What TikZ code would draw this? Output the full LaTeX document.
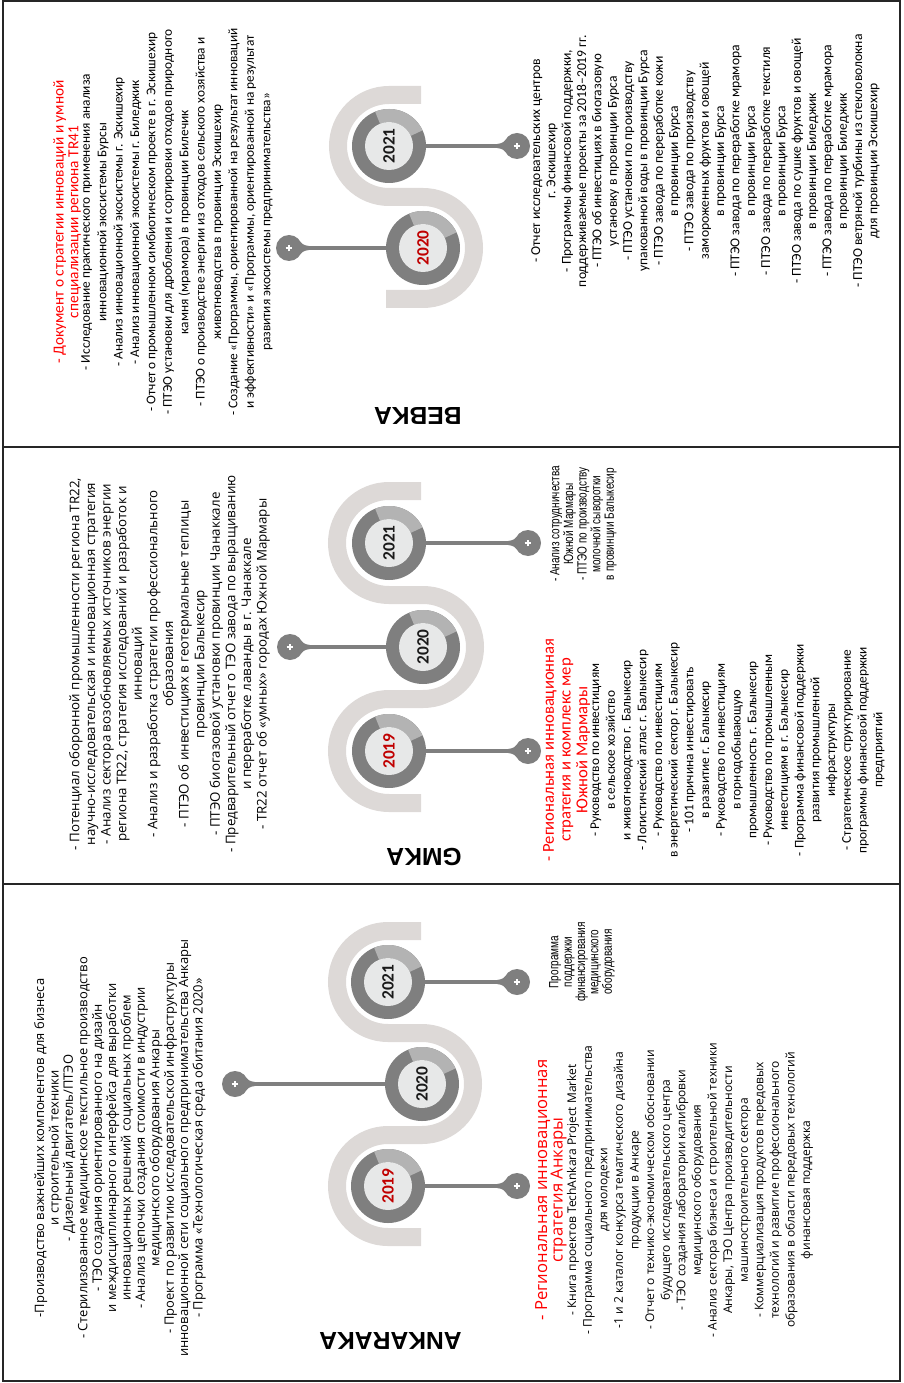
\documentclass[tikz,border=0pt]{standalone}
\usepackage{fontspec}
\setmainfont{Carlito}
\newfontfamily\wideface{Open Sans}
\newfontfamily\narrowface[FakeStretch=0.75]{Liberation Sans}
\newfontfamily\headface{Liberation Sans}
\usetikzlibrary{calc}
\newcommand{\fs}[2]{\fontsize{#1}{#2}\selectfont}
\definecolor{bandgray}{HTML}{DDD9D7}
\definecolor{ringdark}{HTML}{7F7F7F}
\definecolor{ringlight}{HTML}{B3B3B3}
\definecolor{diskgray}{HTML}{E7E8E8}
\definecolor{titlered}{HTML}{FF0000}
\definecolor{yearred}{HTML}{C00000}
\definecolor{yearblack}{HTML}{1A1A1A}
\definecolor{framegray}{HTML}{262626}

\begin{document}
\begin{tikzpicture}[x=0.75pt, y=-0.75pt,
	band/.style={line width=13.5pt, color=bandgray},
	stem/.style={line width=3pt, color=ringdark},
	year/.style={circle, minimum size=55.5pt, inner sep=0pt, rotate=90, font=\fs{13}{13}\bfseries},
	pin/.style={circle, fill=ringdark, minimum size=19.5pt, inner sep=0pt,
		path picture={\draw[white, line width=1.9pt]
			([xshift=-2.6pt]path picture bounding box.center) -- ([xshift=2.6pt]path picture bounding box.center)
			([yshift=-2.6pt]path picture bounding box.center) -- ([yshift=2.6pt]path picture bounding box.center);}},
	notes/.style={rotate=90, anchor=north, align=center, inner sep=0pt},
	title/.style={notes, text=titlered},
	head/.style={rotate=180, anchor=west, inner sep=0pt, font=\headface\bfseries\fs{18.5}{20}},
	frame/.style={line width=1.1pt, color=framegray}]
	\useasboundingbox (0,0) rectangle (903,1383);
	\def\rout{37}
	\def\rin{24}
%
	% frame and panels
	\draw[frame] (3,1) rectangle (900,1381);
	\draw[frame] (3,447) -- (900,447);
	\draw[frame] (3,884) -- (900,884);
%
	% the S bands
	\draw[band] (421,95) -- (389,95) arc[start angle=270, end angle=90, radius=51]
		-- (423,197) arc[start angle=-90, end angle=90, radius=51] -- (386,299);
	\draw[band] (421,491) -- (389,491) arc[start angle=270, end angle=90, radius=52]
		-- (423,595) arc[start angle=-90, end angle=90, radius=52]
		-- (389,699) arc[start angle=270, end angle=90, radius=52] -- (421,803);
	\draw[band] (421,931) -- (388,931) arc[start angle=270, end angle=90, radius=51]
		-- (422,1033) arc[start angle=-90, end angle=90, radius=51]
		-- (388,1135) arc[start angle=270, end angle=90, radius=51] -- (421,1237);
%
	% year rings
	\foreach \n/\x/\y/\yr/\col in {b21/389/146/2021/yearblack, b20/423/248/2020/yearred,
		g21/389/543/2021/yearblack, g20/423/647/2020/yearblack, g19/389/751/2019/yearred,
		a21/388/982/2021/yearblack, a20/422/1084/2020/yearblack, a19/388/1186/2019/yearred}{
		\fill[ringdark] (\x,\y) circle[radius=\rout];
		\fill[ringlight] ($(\x,\y)+(-112:\rout)$) arc[start angle=-112, end angle=-25, radius=\rout]
			-- ($(\x,\y)+(-25:\rin)$) arc[start angle=-25, end angle=-112, radius=\rin] -- cycle;
		\fill[diskgray] (\x,\y) circle[radius=\rin];
		\node[year, text=\col] (\n) at (\x,\y) {\yr};
	}
%
	% pins
	\node[pin] (pb21) at (517,146) {};
	\node[pin] (pb20) at (289,248) {};
	\node[pin] (pg21) at (528,543) {};
	\node[pin] (pg20) at (290,647) {};
	\node[pin] (pg19) at (528,751) {};
	\node[pin] (pa21) at (517,982) {};
	\node[pin] (pa20) at (235,1084) {};
	\node[pin] (pa19) at (517,1186) {};
	\foreach \a/\b in {b21/pb21, b20/pb20, g21/pg21, g20/pg20, g19/pg19, a21/pa21, a20/pa20, a19/pa19}
		\draw[stem] (\a) -- (\b);
	\foreach \p/\d in {pb21/-1, pb20/1, pg21/-1, pg20/1, pg19/-1, pa21/-1, pa20/1, pa19/-1}
		\fill[ringdark] ($(\p)+(\d*8,-10)$) .. controls ($(\p)+(\d*14,-3)$) .. ($(\p)+(\d*20,-2)$)
			-- ($(\p)+(\d*20,2)$) .. controls ($(\p)+(\d*14,3)$) .. ($(\p)+(\d*8,10)$) -- cycle;
%
	% BEBKA
	\node[head] (hbebka) at (462,416) {BEBKA};
	\node[title, font=\fs{11.5}{11}] (tbebka) at (53,222)
		{- Документ о стратегии инноваций и умной\\специализации региона TR41};
	\node[notes, font=\fs{10}{12.3}] (nbebka) at (tbebka.south) {- Исследование практического применения анализа\\
		инновационной экосистемы Бурсы\\
		- Анализ инновационной экосистемы г. Эскишехир\\
		- Анализ инновационной экосистемы г. Биледжик\\
		- Отчет о промышленном симбиотическом проекте в г. Эскишехир\\
		- ПТЭО установки для дробления и сортировки отходов природного\\
		камня (мрамора) в провинции Билечик\\
		- ПТЭО о производстве энергии из отходов сельского хозяйства и\\
		животноводства в провинции Эскишехир\\
		- Создание «Программы, ориентированной на результат инноваций\\
		и эффективности» и «Программы, ориентированной на результат\\
		развития экосистемы предпринимательства»};
	\node[notes, font=\fs{10.2}{11.5}] (rbebka) at (531,161) {- Отчет исследовательских центров\\
		г. Эскишехир\\
		- Программы финансовой поддержки,\\
		поддерживаемые проекты за 2018–2019 гг.\\
		- ПТЭО об инвестициях в биогазовую\\
		установку в провинции Бурса\\
		- ПТЭО установки по производству\\
		упакованной воды в провинции Бурса\\
		- ПТЭО завода по переработке кожи\\
		в провинции Бурса\\
		- ПТЭО завода по производству\\
		замороженных фруктов и овощей\\
		в провинции Бурса\\
		- ПТЭО завода по переработке мрамора\\
		в провинции Бурса\\
		- ПТЭО завода по переработке текстиля\\
		в провинции Бурса\\
		- ПТЭО завода по сушке фруктов и овощей\\
		в провинции Биледжик\\
		- ПТЭО завода по переработке мрамора\\
		в провинции Биледжик\\
		- ПТЭО ветряной турбины из стекловолокна\\
		для провинции Эскишехир};
%
	% GMKA
	\node[head] (hgmka) at (462,857) {GMKA};
	\node[notes, font=\wideface\fs{10}{11.7}] (lgmka) at (69,664) {- Потенциал оборонной промышленности региона TR22,\\
		научно-исследовательская и инновационная стратегия\\
		- Анализ сектора возобновляемых источников энергии\\
		региона TR22, стратегия исследований и разработок и\\
		инноваций\\
		- Анализ и разработка стратегии профессионального\\
		образования\\
		- ПТЭО об инвестициях в геотермальные теплицы\\
		провинции Балыкесир\\
		- ПТЭО биогазовой установки провинции Чанаккале\\
		- Предварительный отчет о ТЭО завода по выращиванию\\
		и переработке лаванды в г. Чанаккале\\
		- TR22 отчет об «умных» городах Южной Мармары};
	\node[notes, font=\narrowface\fs{10}{10.2}] (rgmka) at (550,524) {- Анализ сотрудничества\\
		Южной Мармары\\
		- ПТЭО по производству\\
		молочной сыворотки\\
		в провинции Балыкесир};
	\node[title, font=\fs{12.5}{12.5}] (tgmka) at (543,750)
		{- Региональная инновационная\\стратегия и комплекс мер\\Южной Мармары};
	\node[notes, font=\fs{10}{11.8}] (ngmka) at (tgmka.south) {- Руководство по инвестициям\\
		в сельское хозяйство\\
		и животноводство г. Балыкесир\\
		- Логистический атлас г. Балыкесир\\
		- Руководство по инвестициям\\
		в энергетический сектор г. Балыкесир\\
		- 101 причина инвестировать\\
		в развитие г. Балыкесир\\
		- Руководство по инвестициям\\
		в горнодобывающую\\
		промышленность г. Балыкесир\\
		- Руководство по промышленным\\
		инвестициям в г. Балыкесир\\
		- Программа финансовой поддержки\\
		развития промышленной\\
		инфраструктуры\\
		- Стратегическое структурирование\\
		программы финансовой поддержки\\
		предприятий};
%
	% ANKARAKA
	\node[head] (hank) at (462,1341) {ANKARAKA};
	\node[notes, font=\wideface\fs{9.7}{10.8}] (lank) at (34,1148) {-Производство важнейших компонентов для бизнеса\\
		и строительной техники\\
		- Дизельный двигатель/ПТЭО\\
		- Стерилизованное медицинское текстильное производство\\
		- ТЭО создания ориентированного на дизайн\\
		и междисциплинарного интерфейса для выработки\\
		инновационных решений социальных проблем\\
		- Анализ цепочки создания стоимости в индустрии\\
		медицинского оборудования Анкары\\
		- Проект по развитию исследовательской инфраструктуры\\
		инновационной сети социального предпринимательства Анкары\\
		- Программа «Технологическая среда обитания 2020»};
	\node[notes, font=\narrowface\fs{10}{10}] (rank) at (549,962) {Программа\\
		поддержки\\
		финансирования\\
		медицинского\\
		оборудования};
	\node[title, font=\wideface\fs{12.5}{11.5}] (tank) at (535,1190)
		{- Региональная инновационная\\стратегия Анкары};
	\node[notes, font=\wideface\fs{9}{11.7}] (nank) at (tank.south) {- Книга проектов TechAnkara Project Market\\
		- Программа социального предпринимательства\\
		для молодежи\\
		-1 и 2 каталог конкурса тематического дизайна\\
		продукции в Анкаре\\
		- Отчет о технико-экономическом обосновании\\
		будущего исследовательского центра\\
		- ТЭО создания лаборатории калибровки\\
		медицинского оборудования\\
		- Анализ сектора бизнеса и строительной техники\\
		Анкары, ТЭО Центра производительности\\
		машиностроительного сектора\\
		- Коммерциализация продуктов передовых\\
		технологий и развитие профессионального\\
		образования в области передовых технологий\\
		финансовая поддержка};
\end{tikzpicture}
\end{document}
